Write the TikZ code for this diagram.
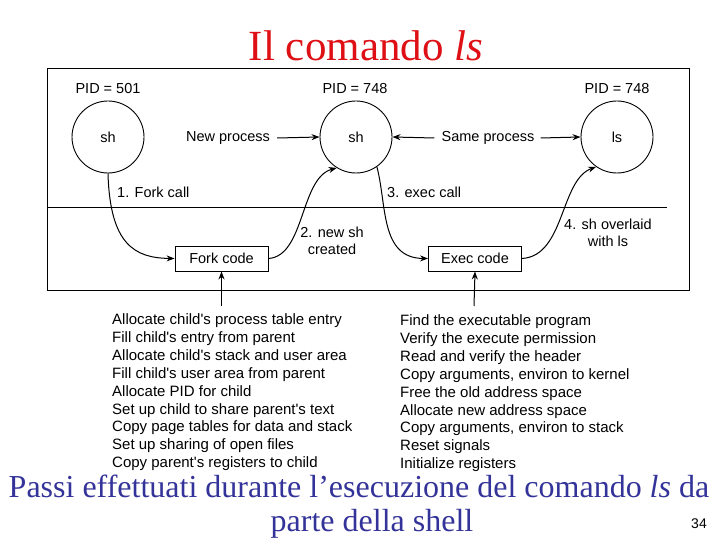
\documentclass[tikz,border=0pt]{standalone}
\usepackage{fontspec}
\setmainfont{Liberation Serif}
\newfontfamily\diagfont{Liberation Sans}
\usetikzlibrary{arrows.meta}
\definecolor{titlered}{RGB}{222,16,22}
\definecolor{capblue}{RGB}{51,51,153}
\tikzset{
  proc/.style={draw, circle, minimum size=72pt, inner sep=0pt, line width=0.9pt, font=\diagfont\fontsize{14.5}{17}\selectfont},
  codebox/.style={draw, rectangle, minimum width=93pt, minimum height=25pt, inner sep=0pt, line width=0.9pt, font=\diagfont\fontsize{14.5}{17}\selectfont},
  lbl/.style={font=\diagfont\fontsize{14.5}{17}\selectfont, inner sep=0pt},
  lst/.style={font=\diagfont\fontsize{15}{17.9}\selectfont, inner sep=0pt, align=left, anchor=north west},
  conn/.style={line width=1pt, -{Stealth[length=8pt,width=6pt]}},
}
\begin{document}
\begin{tikzpicture}[x=1pt,y=-1pt]
\useasboundingbox (0,0) rectangle (720,540);
% title
\node[font=\fontsize{43}{46}\selectfont, text=titlered, anchor=base, inner sep=0pt] (title) at (366,61) {Il comando \textit{ls}};
% frame
\draw[line width=1pt] (47,69) rectangle (689,290);
\draw[line width=0.8pt] (47,207) -- (667,207);
% processes
\node[proc] (sh1) at (108,137) {sh};
\node[proc] (sh2) at (356,137) {sh};
\node[proc] (ls) at (617,137) {ls};
\node[lbl] (pid1) at (108,89) {PID = 501};
\node[lbl] (pid2) at (355,89) {PID = 748};
\node[lbl] (pid3) at (617,89) {PID = 748};
\node[lbl] (newp) at (228,138) {New process};
\node[lbl] (samep) at (488,138) {Same process};
\draw[conn] (newp.east) ++(7,0) coordinate (np1) -- (sh2.west);
\draw[conn] (samep.west) ++(-7,0) coordinate (sp1) -- (sh2.east);
\draw[conn] (samep.east) ++(6,0) coordinate (sp2) -- (ls.west);
% code boxes
\node[codebox] (fork) at (221.5,258.5) {Fork code};
\node[codebox] (exec) at (475,258.5) {Exec code};
\coordinate (fin) at (221.5,306);
\coordinate (ein) at (474,306);
\draw[conn] (fin) -- (fork.south);
\draw[conn] (ein) -- (exec.south);
% curves
\draw[conn] (sh1.south) .. controls (110,245) and (135,258) .. (fork.west);
\draw[conn] (fork.east) .. controls (305,256) and (300,178) .. (sh2.238);
\draw[conn] (sh2.305) .. controls (387,205) and (380,258) .. (exec.west);
\draw[conn] (exec.east) .. controls (565,256) and (560,180) .. (ls.235);
% labels
\node[lbl, anchor=west] (l1) at (117,192) {1. Fork call};
\node[lbl, align=center] (l2) at (332,241) {2. new sh\\created};
\node[lbl, anchor=west] (l3) at (387,192) {3. exec call};
\node[lbl, align=center] (l4) at (608,233) {4. sh overlaid\\with ls};
% lists
\node[lst] (forklist) at (112,313.5) {Allocate child's process table entry\\
Fill child's entry from parent\\
Allocate child's stack and user area\\
Fill child's user area from parent\\
Allocate PID for child\\
Set up child to share parent's text\\
Copy page tables for data and stack\\
Set up sharing of open files\\
Copy parent's registers to child};
\node[lst] (execlist) at (400,314.5) {Find the executable program\\
Verify the execute permission\\
Read and verify the header\\
Copy arguments, environ to kernel\\
Free the old address space\\
Allocate new address space\\
Copy arguments, environ to stack\\
Reset signals\\
Initialize registers};
% caption
\node[font=\fontsize{32}{36}\selectfont, text=capblue, anchor=base, inner sep=0pt] (cap1) at (359,497) {Passi effettuati durante l’esecuzione del comando \textit{ls} da};
\node[font=\fontsize{32}{36}\selectfont, text=capblue, anchor=base, inner sep=0pt] (cap2) at (372,531) {parte della shell};
\node[font=\diagfont\fontsize{14}{16}\selectfont, anchor=base, inner sep=0pt] (pg) at (699,528) {34};
\end{tikzpicture}
\end{document}
